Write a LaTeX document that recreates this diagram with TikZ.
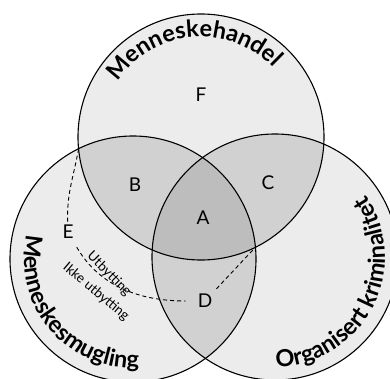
\documentclass[tikz,border=0pt]{standalone}
\usepackage{fontspec}
\setmainfont{Lato}
\usetikzlibrary{calc,decorations.text}

\begin{document}
\begin{tikzpicture}[x=1pt,y=1pt]
    \def\rad{123}

    \definecolor{venn-one}{HTML}{ECECEC}
    \definecolor{venn-two}{HTML}{D1D1D1}
    \definecolor{venn-three}{HTML}{BDBDBD}

    \tikzset{
      ring/.style={
        draw=black,
        line width=1.1pt
      },
      region/.style={
        font=\fontsize{19}{21}\selectfont,
        inner sep=3pt
      },
      skille/.style={
        dash pattern=on 4pt off 3pt,
        line width=0.9pt
      },
      side/.style={
        font=\fontsize{13.5}{15}\selectfont,
        inner sep=0pt
      },
      ringlabel/.style={
        decorate,
        decoration={text along path, text align=center,
          text={|\bfseries\fontsize{23.5}{27}\selectfont|#1}}
      }
    }

    \useasboundingbox (0,0) rectangle (390,378);

    \coordinate (handel) at (201,241);
    \coordinate (smug) at (133,119);
    \coordinate (krim) at (275,121);

    \fill[venn-one] (handel) circle (\rad);
    \fill[venn-one] (smug) circle (\rad);
    \fill[venn-one] (krim) circle (\rad);
    \begin{scope}
      \clip (handel) circle (\rad);
      \fill[venn-two] (smug) circle (\rad);
      \fill[venn-two] (krim) circle (\rad);
    \end{scope}
    \begin{scope}
      \clip (smug) circle (\rad);
      \fill[venn-two] (krim) circle (\rad);
    \end{scope}
    \begin{scope}
      \clip (handel) circle (\rad);
      \clip (smug) circle (\rad);
      \fill[venn-three] (krim) circle (\rad);
    \end{scope}

    \draw[ring] (handel) circle (\rad);
    \draw[ring] (smug) circle (\rad);
    \draw[ring] (krim) circle (\rad);

    \path[ringlabel=Menneskehandel] ($(handel)+(155:100)$) arc[start angle=155, end angle=35, radius=100];
    \path[ringlabel=Menneskesmugling] ($(smug)+(155:109)$) arc[start angle=155, end angle=285, radius=109];
    \path[ringlabel=Organisert kriminalitet] ($(krim)+(260:110)$) arc[start angle=260, end angle=405, radius=110];

    \node[region] (F) at (201,283) {F};
    \node[region] (B) at (135,193) {B};
    \node[region] (C) at (268,195) {C};
    \node[region] (A) at (203,160) {A};
    \node[region] (E) at (68,146) {E};
    \node[region] (D) at (205,77) {D};

    \node[side, rotate=-45] (utb) at (109,104) {Utbytting};
    \node[side, rotate=-40] (ikke) at (96,86) {Ikke utbytting};

    \coordinate (kryss-o) at (78.6,229.3);
    \coordinate (kryss-n) at (255.4,130.7);
    \draw[skille] (kryss-o) to[out=-100,in=92] (E);
    \draw[skille, shorten <=6pt, shorten >=9pt] (E) to[out=-60,in=180] (D);
    \draw[skille, shorten <=3pt] (D) -- (kryss-n);
  \end{tikzpicture}
\end{document}
